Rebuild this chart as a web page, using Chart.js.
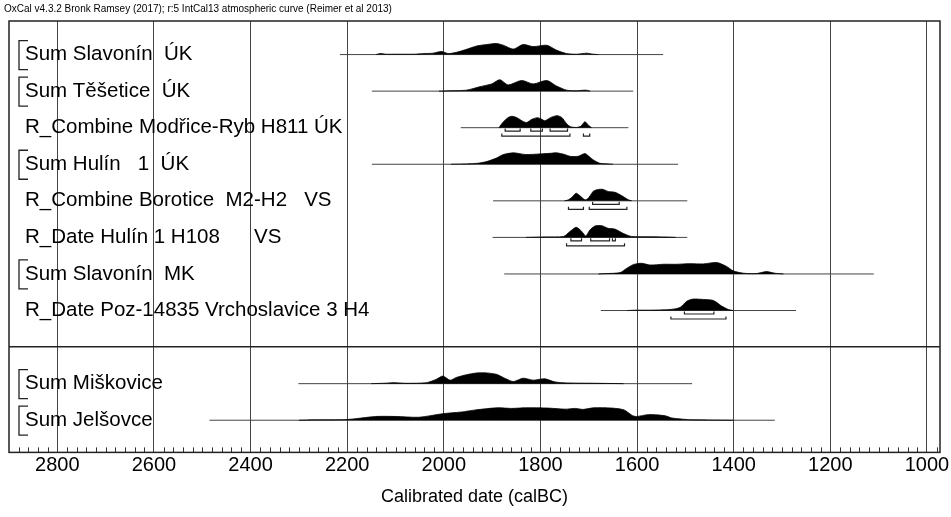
<!DOCTYPE html>
<html>
<head>
<meta charset="utf-8">
<script src="https://cdn.jsdelivr.net/npm/chart.js@4.4.1/dist/chart.umd.min.js"></script>
<style>
  html, body { margin: 0; padding: 0; background: #fff; }
</style>
</head>
<body>
<canvas id="oxcal" width="951" height="517"></canvas>
<script>
// OxCal multiplot: summed / combined calibrated dates per site
const headerText = 'OxCal v4.3.2 Bronk Ramsey (2017); r:5 IntCal13 atmospheric curve (Reimer et al 2013)';
const axisTitle = 'Calibrated date (calBC)';

// one entry per row, '' = group separator
const rowLabels = [
  'Sum Slavonín  ÚK',
  'Sum Těšetice  ÚK',
  'R_Combine Modřice-Ryb H811 ÚK',
  'Sum Hulín   1  ÚK',
  'R_Combine Borotice  M2-H2   VS',
  'R_Date Hulín 1 H108      VS',
  'Sum Slavonín  MK',
  'R_Date Poz-14835 Vrchoslavice 3 H4',
  '',
  'Sum Miškovice',
  'Sum Jelšovce'
];

const xTicks = [2800, 2600, 2400, 2200, 2000, 1800, 1600, 1400, 1200, 1000];

// extent of the thin range line under each distribution (cal BC)
const rangeFrom = [2215, 2149, 1965, 2149, 1898, 1899, 1875, 1675, null, 2301, 2485];
const rangeTo   = [1546, 1608, 1618, 1515, 1496, 1496, 1110, 1271, null, 1486, 1315];

// probability distributions: [year calBC, relative probability]
const slavoninUK = [[2140,0],[2132,.08],[2120,.03],[2097,.03],[2060,.03],[2042,.08],[2022,.11],[2005,.25],[1991,.08],[1973,.19],[1953,.42],[1932,.69],[1911,.81],[1891,.89],[1877,.75],[1856,.44],[1836,.81],[1815,.64],[1787,.75],[1767,.36],[1746,.08],[1725,.03],[1704,.11],[1691,.03],[1680,0]];
const tesetice = [[2010,0],[1985,.03],[1953,.08],[1925,.36],[1901,.58],[1884,.92],[1867,.5],[1839,.86],[1815,.58],[1787,.86],[1767,.42],[1746,.08],[1725,.03],[1706,.08],[1697,0]];
const modrice = [[1886,0],[1878,.42],[1868,.79],[1859,.92],[1848,.79],[1836,.5],[1828,.42],[1818,.67],[1806,.81],[1797,.67],[1791,.56],[1778,.83],[1766,.97],[1756,.83],[1746,.33],[1738,.08],[1725,.02],[1716,.13],[1708,.48],[1700,.17],[1694,0]];
const hulinUK = [[1985,0],[1953,.03],[1930,.08],[1911,.22],[1891,.5],[1877,.78],[1856,.92],[1840,.83],[1829,.78],[1801,.83],[1780,.88],[1767,.92],[1750,.79],[1739,.64],[1722,.64],[1708,.86],[1698,.58],[1691,.36],[1677,.08],[1660,.03],[1650,0]];
const borotice = [[1750,0],[1742,.08],[1735,.28],[1726,.61],[1716,.33],[1708,.08],[1702,.17],[1697,.42],[1690,.79],[1680,.92],[1670,.92],[1660,.75],[1646,.69],[1632,.42],[1618,.08],[1611,0]];
const hulinH108 = [[1830,0],[1790,.04],[1752,.08],[1740,.44],[1726,.81],[1715,.5],[1706,.11],[1698,.58],[1687,.92],[1673,.94],[1660,.73],[1646,.67],[1628,.31],[1612,.08],[1575,.05],[1540,.03],[1520,0]];
const slavoninMK = [[1680,0],[1663,.03],[1635,.11],[1622,.44],[1608,.75],[1591,.86],[1573,.72],[1546,.78],[1518,.78],[1491,.83],[1463,.81],[1435,.92],[1415,.61],[1401,.25],[1380,.06],[1353,.03],[1332,.19],[1315,.06],[1297,0]];
const poz14835 = [[1620,0],[1601,.03],[1573,.03],[1532,.08],[1511,.25],[1497,.75],[1484,.92],[1463,.89],[1442,.81],[1425,.36],[1411,.08],[1401,0]];
const miskovice = [[2150,0],[2120,.04],[2105,.08],[2077,.03],[2036,.08],[2015,.36],[2002,.61],[1987,.28],[1974,.5],[1953,.72],[1932,.86],[1911,.86],[1891,.75],[1873,.42],[1856,.17],[1836,.44],[1815,.28],[1791,.39],[1770,.14],[1746,.06],[1684,.03],[1628,0]];
const jelsovce = [[2300,0],[2267,.03],[2200,.06],[2141,.3],[2097,.3],[2052,.24],[2001,.53],[1964,.66],[1934,.83],[1890,1],[1860,.95],[1831,1],[1786,.98],[1749,.89],[1727,.95],[1712,.87],[1690,1],[1653,.98],[1627,.83],[1609,.36],[1601,.3],[1576,.45],[1542,.36],[1528,.18],[1498,.06],[1480,.03],[1400,0]];

const densities = [slavoninUK, tesetice, modrice, hulinUK, borotice, hulinH108, slavoninMK, poz14835, null, miskovice, jelsovce];

// highest posterior density ranges
const hpd68 = [[], [], [[1873,1842],[1820,1796],[1780,1744]], [], [[1692,1637]], [[1737,1715],[1696,1657],[1651,1645]], [], [[1502,1441]], [], [], []];
const hpd95 = [[], [], [[1880,1739],[1711,1698]], [], [[1742,1711],[1699,1621]], [[1746,1626]], [], [[1530,1416]], [], [], []];

const PEAK = 0.34;       // row units for relative probability 1
const OFF68 = 0.095, OFF95 = 0.232, HOOK = 0.07;
const FONT = "'Liberation Sans', Arial, Helvetica, sans-serif";

const datasets = [];
const bracket = (a, b, yy) => ({
  data: [{x: a, y: yy - HOOK}, {x: a, y: yy}, {x: b, y: yy}, {x: b, y: yy - HOOK}],
  borderColor: '#222', borderWidth: 1.2, pointRadius: 0, fill: false
});
rowLabels.forEach((label, i) => {
  if (rangeFrom[i] == null) return;
  datasets.push({
    data: densities[i].map(([yr, p]) => ({x: yr, y: i - p * PEAK})),
    fill: {value: i}, backgroundColor: '#000', borderColor: '#000',
    borderWidth: 0.8, pointRadius: 0, tension: 0.25
  });
  datasets.push({
    data: [{x: rangeFrom[i], y: i}, {x: rangeTo[i], y: i}],
    borderColor: '#444', borderWidth: 1, pointRadius: 0, fill: false
  });
  hpd68[i].forEach(([a, b]) => datasets.push(bracket(a, b, i + OFF68)));
  hpd95[i].forEach(([a, b]) => datasets.push(bracket(a, b, i + OFF95)));
});

const decor = {
  id: 'decor',
  afterDraw(chart) {
    const {ctx, chartArea: a, scales: {x, y}} = chart;
    ctx.save();
    // minor ticks every 20 years along the bottom
    ctx.strokeStyle = '#333';
    ctx.lineWidth = 1;
    ctx.beginPath();
    for (let v = 980; v < 2900; v += 20) {
      if (v % 200 === 0) continue;
      const px = Math.round(x.getPixelForValue(v)) + 0.5;
      ctx.moveTo(px, a.bottom);
      ctx.lineTo(px, a.bottom - 5);
    }
    ctx.stroke();

    // frame
    ctx.strokeStyle = '#222';
    ctx.lineWidth = 1.5;
    ctx.strokeRect(a.left, a.top, a.right - a.left, a.bottom - a.top);

    // row labels and the [ marks of Sum rows
    ctx.fillStyle = '#000';
    ctx.font = '20.5px ' + FONT;
    ctx.textAlign = 'left';
    ctx.textBaseline = 'middle';
    ctx.lineWidth = 1.3;
    rowLabels.forEach((t, i) => {
      if (!t) return;
      const py = y.getPixelForValue(i);
      ctx.fillText(t, a.left + 16, py);
      if (t.startsWith('Sum')) {
        const bx = a.left + 10;
        ctx.beginPath();
        ctx.moveTo(bx + 9, py - 14);
        ctx.lineTo(bx, py - 14);
        ctx.lineTo(bx, py + 15);
        ctx.lineTo(bx + 9, py + 15);
        ctx.stroke();
      }
    });

    // OxCal header
    ctx.font = '10px ' + FONT;
    ctx.fillText(headerText, 4, 9);
    ctx.restore();
  }
};

new Chart(document.getElementById('oxcal'), {
  type: 'line',
  data: {datasets},
  plugins: [decor],
  options: {
    responsive: false,
    animation: false,
    events: [],
    layout: {padding: {left: 9, right: 11, top: 21, bottom: 0}},
    plugins: {legend: {display: false}, tooltip: {enabled: false}},
    scales: {
      x: {
        type: 'linear',
        reverse: true,
        min: 973,
        max: 2900,
        afterBuildTicks: s => { s.ticks = xTicks.map(v => ({value: v})); },
        grid: {color: '#444', lineWidth: 1, drawTicks: false},
        border: {display: false},
        ticks: {
          color: '#000', padding: 1,
          font: {family: FONT, size: 20},
          callback: v => String(v)
        },
        title: {
          display: true, text: axisTitle, color: '#000',
          font: {family: FONT, size: 18},
          padding: {top: 8, bottom: 9}
        }
      },
      y: {
        type: 'linear',
        reverse: true,
        min: -0.918,
        max: 10.88,
        afterBuildTicks: s => { s.ticks = [{value: rowLabels.indexOf('')}]; },
        grid: {color: '#222', lineWidth: 1.5, drawTicks: false},
        border: {display: false},
        ticks: {display: false}
      }
    }
  }
});
</script>
</body>
</html>
